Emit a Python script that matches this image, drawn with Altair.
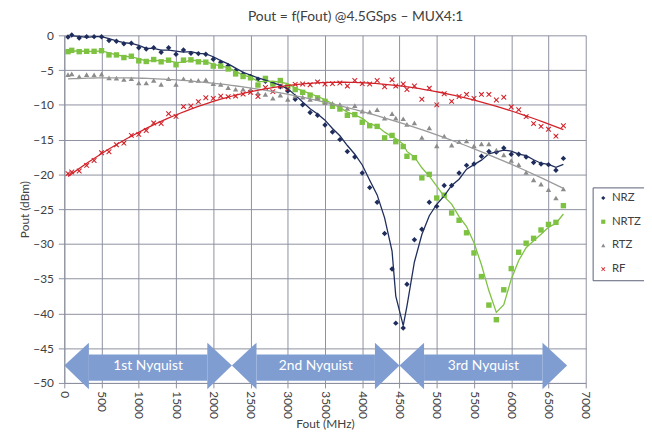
import altair as alt
import pandas as pd

# ---------------- data ----------------
freq = [50, 100, 200, 300, 400, 500, 600, 700, 800, 900,
        1000, 1100, 1200, 1300, 1400, 1500, 1600, 1700, 1800, 1900,
        2000, 2100, 2200, 2300, 2400, 2500, 2600, 2700, 2800, 2900,
        3000, 3100, 3200, 3300, 3400, 3500, 3600, 3700, 3800, 3900,
        4000, 4100, 4200, 4300, 4400, 4450, 4550, 4600, 4700, 4800,
        4900, 5000, 5100, 5200, 5300, 5400, 5500, 5600, 5700, 5800,
        5900, 6000, 6100, 6200, 6300, 6400, 6500, 6600, 6700]

nrz = [-0.24, 0.05, -0.38, -0.19, -0.19, -0.20, -0.75, -0.85, -1.22, -1.13,
       -1.79, -1.97, -1.79, -2.44, -1.79, -2.73, -2.12, -2.59, -2.63, -2.73,
       -3.43, -3.86, -4.37, -5.08, -5.55, -5.92, -6.3, -6.6, -7.0, -7.4,
       -8.0, -9.2, -10.0, -11.1, -11.5, -12.9, -13.9, -15.0, -16.7, -17.5,
       -19.8, -21.9, -24.0, -28.5, -33.6, -41.4, -42.1, -35.8, -29.4, -27.9,
       -24.0, -24.6, -21.6, -21.6, -19.8, -18.7, -18.5, -17.4, -16.7, -16.8,
       -16.2, -17.1, -17.1, -17.5, -18.3, -18.5, -18.6, -19.4, -17.7]

nrtz = [-2.35, -2.16, -2.35, -2.30, -2.30, -2.21, -2.82, -2.82, -3.20, -3.01,
        -3.67, -3.76, -3.48, -3.81, -3.57, -4.23, -3.57, -3.53, -3.81, -3.86,
        -4.42, -4.42, -4.84, -5.55, -5.92, -6.11, -7.15, -6.2, -7.0, -6.5,
        -7.4, -7.8, -8.2, -8.6, -9.0, -9.5, -10.2, -10.6, -11.5, -11.4,
        -12.5, -13.0, -13.1, -14.75, -14.4, -15.3, -16.0, -17.4, -17.6, -20.5,
        -20.0, -23.4, -23.0, -25.55, -26.6, -28.4, -31.3, -34.7, -38.8, -40.9,
        -36.6, -33.55, -31.2, -29.9, -29.2, -28.0, -27.2, -26.9, -24.5]

rtz = [-5.64, -5.55, -5.92, -5.64, -5.69, -5.59, -6.11, -6.16, -6.35, -6.25,
       -6.86, -6.86, -6.49, -7.05, -6.25, -7.05, -6.25, -6.49, -6.49, -6.39,
       -6.96, -7.05, -7.52, -7.76, -7.76, -7.8, -8.3, -8.5, -9.05, -8.6,
       -9.2, -8.7, -8.9, -9.2, -9.07, -9.7, -9.8, -9.95, -10.5, -10.1,
       -10.9, -11.0, -10.7, -11.9, -11.25, -11.9, -12.0, -12.8, -12.6, -14.7,
       -13.3, -15.9, -14.5, -15.8, -15.3, -15.2, -15.9, -15.6, -15.6, -16.5,
       -17.2, -18.0, -18.6, -19.7, -20.8, -21.4, -22.2, -23.4, -22.1]

rf = [-19.89, -19.65, -19.51, -18.71, -18.0, -16.88, -16.74, -15.75, -15.51, -14.39,
      -14.25, -13.68, -12.6, -12.69, -11.28, -11.66, -10.25, -10.16, -9.54, -8.98,
      -9.07, -8.74, -8.84, -8.74, -8.45, -8.2, -8.8, -7.5, -8.1, -7.3,
      -7.7, -7.05, -7.0, -7.1, -6.7, -7.0, -6.95, -6.85, -7.3, -6.5,
      -6.95, -7.0, -6.5, -7.4, -6.4, -7.3, -7.0, -7.8, -7.3, -9.2,
      -7.6, -10.0, -8.4, -9.5, -8.8, -8.5, -9.07, -8.5, -8.5, -9.3,
      -8.9, -10.3, -10.7, -11.7, -12.7, -13.1, -13.5, -14.5, -13.0]

series_names = ["NRZ", "NRTZ", "RTZ", "RF"]
x_ticks = [0, 500, 1000, 1500, 2000, 2500, 3000, 3500, 4000, 4500,
           5000, 5500, 6000, 6500, 7000]
y_ticks = [0, -5, -10, -15, -20, -25, -30, -35, -40, -45, -50]

nyquist_edges = [0, 2250, 4500, 6750]
nyquist_labels = ["1st Nyquist", "2nd Nyquist", "3rd Nyquist"]

# ---------------- tables ----------------
rows = []
for name, vals in zip(series_names, [nrz, nrtz, rtz, rf]):
    for f, v in zip(freq, vals):
        rows.append({"series": name, "x": f, "y": v})
df = pd.DataFrame(rows)

# arrow annotation built from the Nyquist zone edges
head = 330
y_c, head_top, head_bot, body_top, body_bot = -47.5, -44.2, -50.9, -45.9, -49.7
body_rows, head_rows = [], []
for k in range(3):
    a, b = nyquist_edges[k], nyquist_edges[k + 1]
    body_rows.append({"x": a + head, "x2": b - head, "y": body_top, "y2": body_bot})
    head_rows += [
        {"h": 2 * k, "x": a, "y": y_c, "y2": y_c},
        {"h": 2 * k, "x": a + head, "y": head_top, "y2": head_bot},
        {"h": 2 * k + 1, "x": b - head, "y": head_top, "y2": head_bot},
        {"h": 2 * k + 1, "x": b, "y": y_c, "y2": y_c},
    ]
body_df = pd.DataFrame(body_rows)
head_df = pd.DataFrame(head_rows)
label_df = pd.DataFrame({
    "x": [(nyquist_edges[k] + nyquist_edges[k + 1]) / 2 for k in range(3)],
    "y": [y_c] * 3,
    "t": nyquist_labels,
})

# ---------------- styling ----------------
FONT = "Lato"
ARROW = "#7f9dd1"
colors = ["#1f2d5c", "#7ec242", "#8c8c8c", "#d2232a"]
line_colors = {"NRZ": "#1f2d5c", "NRTZ": "#7ec242", "RTZ": "#9a9a9a", "RF": "#d2232a"}
xshape = "M-0.75,-1L0,-0.3L0.75,-1L1,-0.75L0.3,0L1,0.75L0.75,1L0,0.3L-0.75,1L-1,0.75L-0.3,0L-1,-0.75Z"
shapes = ["diamond", "square", "triangle-up", xshape]

xscale = alt.Scale(domain=[0, 7000], nice=False, zero=False)
yscale = alt.Scale(domain=[-50, 0], nice=False, zero=False)
xaxis = alt.Axis(values=x_ticks, format="d", labelAngle=90, labelAlign="left",
                 labelBaseline="middle", title="Fout (MHz)", tickSize=5, labelPadding=3,
                 titleX=264, titleY=41, titleBaseline="middle", grid=True)
yaxis = alt.Axis(values=y_ticks, format="d", title="Pout (dBm)", tickSize=6,
                 labelPadding=5, titleX=-40, titleY=176, titleBaseline="middle",
                 titleAngle=270, grid=True)


def X(field="x"):
    return alt.X(f"{field}:Q", scale=xscale, axis=xaxis)


def Y(field="y"):
    return alt.Y(f"{field}:Q", scale=yscale, axis=yaxis)


points = alt.Chart(df).mark_point(filled=True, opacity=1, size=30).encode(
    x=X(), y=Y(),
    color=alt.Color("series:N", scale=alt.Scale(domain=series_names, range=colors),
                    legend=alt.Legend(title=None)),
    shape=alt.Shape("series:N", scale=alt.Scale(domain=series_names, range=shapes),
                    legend=alt.Legend(title=None)),
)


def ma_line(name):
    return (alt.Chart(df)
            .transform_filter(alt.datum.series == name)
            .transform_window(ma="mean(y)", rn="row_number()", frame=[-1, 0],
                              sort=[alt.SortField("x")])
            .transform_filter("datum.rn > 1")
            .mark_line(color=line_colors[name], strokeWidth=1.3)
            .encode(x=X(), y=Y("ma")))


def poly_line(name, order):
    return (alt.Chart(df)
            .transform_filter(alt.datum.series == name)
            .transform_regression("x", "y", method="poly", order=order)
            .mark_line(color=line_colors[name], strokeWidth=1.3)
            .encode(x=X(), y=Y()))


bodies = alt.Chart(body_df).mark_rect(color=ARROW, opacity=1).encode(
    x=X(), x2="x2:Q", y=Y(), y2="y2:Q")

heads = [
    alt.Chart(head_df).transform_filter(alt.datum.h == j)
    .mark_area(color=ARROW, opacity=1)
    .encode(x=X(), y=Y(), y2="y2:Q")
    for j in range(6)
]

labels = alt.Chart(label_df).mark_text(color="white", fontSize=14, font=FONT).encode(
    x=X(), y=Y(), text="t:N")

chart = alt.layer(
    points, ma_line("NRZ"), ma_line("NRTZ"), poly_line("RTZ", 2), poly_line("RF", 3),
    bodies, *heads, labels,
).properties(
    width=528, height=352,
    autosize=alt.AutoSizeParams(type="none"),
    padding={"left": 57, "top": 25, "right": 59, "bottom": 47},
    title=alt.TitleParams("Pout = f(Fout) @4.5GSps \u2013 MUX4:1", font=FONT, fontSize=14,
                          fontWeight="normal", color="#404040", anchor="middle",
                          frame="group", dx=31, offset=5),
).configure_view(
    strokeWidth=0
).configure_axis(
    gridColor="#8d90a0", domainColor="#8d90a0", tickColor="#8d90a0",
    gridWidth=1, domainWidth=1,
    labelFont=FONT, labelFontSize=12, labelColor="#404040",
    titleFont=FONT, titleFontSize=12, titleColor="#404040", titleFontWeight="normal",
).configure_legend(
    orient="none", legendX=535, legendY=154,
    strokeColor="#5a6078", fillColor="white", padding=5, rowPadding=11,
    labelOffset=3, symbolOffset=0,
    labelFont=FONT, labelFontSize=11.5, labelColor="#404040", symbolSize=18,
)

chart.save("out.html", embed_options={"renderer": "svg", "actions": False})
